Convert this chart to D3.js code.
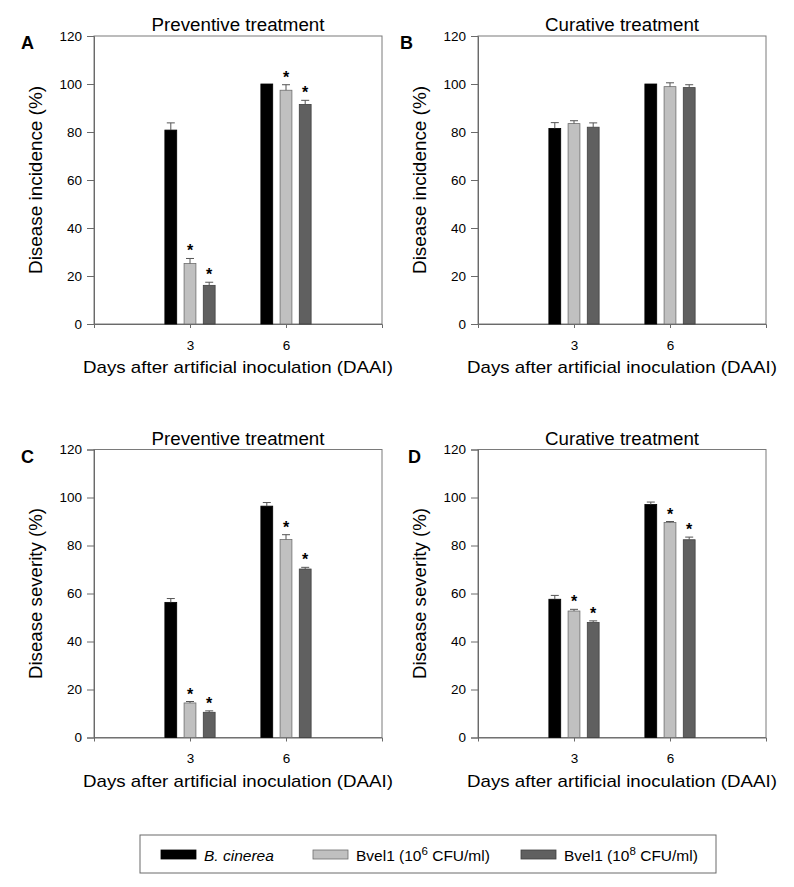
<!DOCTYPE html>
<html>
<head>
<meta charset="utf-8">
<script src="https://cdn.jsdelivr.net/npm/d3@7"></script>
<style>
  body { margin: 0; background: #fff; }
  text { font-family: Arial, "Liberation Sans", sans-serif; fill: #000; }
</style>
</head>
<body>
<div class="canvas"></div>
<script>
// data: rows = series, columns = days
const days = [3, 6];
const seriesNames = ['B. cinerea', 'Bvel1 (10^6 CFU/ml)', 'Bvel1 (10^8 CFU/ml)'];
const yTicks = [0, 20, 40, 60, 80, 100, 120];

const prevIncidence    = [[80.8, 100], [25.2, 97.4], [16.1, 91.5]];
const prevIncidenceErr = [[3.0, 0], [2.1, 2.3], [1.3, 1.7]];
const prevIncidenceSig = [[false, false], [true, true], [true, true]];

const curIncidence    = [[81.5, 100], [83.5, 98.9], [82.0, 98.5]];
const curIncidenceErr = [[2.4, 0], [1.2, 1.6], [1.8, 1.2]];
const curIncidenceSig = [[false, false], [false, false], [false, false]];

const prevSeverity    = [[56.3, 96.4], [14.4, 82.5], [10.5, 70.2]];
const prevSeverityErr = [[1.6, 1.5], [0.6, 2.0], [0.6, 0.7]];
const prevSeveritySig = [[false, false], [true, true], [true, true]];

const curSeverity    = [[57.6, 97.1], [52.7, 89.6], [47.9, 82.4]];
const curSeverityErr = [[1.6, 1.0], [0.7, 0.4], [0.7, 1.1]];
const curSeveritySig = [[false, false], [true, true], [true, true]];

const fills   = ['#000000', '#c0c0c0', '#606060'];
const strokes = ['#000000', '#6e6e6e', '#404040'];
const offsets = [-0.6, 0, 0.6];
const barW = 0.37;

const dim = { width: 288, height: 288 };

const panels = [
  { id: 'A', title: 'Preventive treatment', ylabel: 'Disease incidence (%)', mean: prevIncidence, err: prevIncidenceErr, sig: prevIncidenceSig, left: 94, top: 36, letterX: 21 },
  { id: 'B', title: 'Curative treatment', ylabel: 'Disease incidence (%)', mean: curIncidence, err: curIncidenceErr, sig: curIncidenceSig, left: 478, top: 36, letterX: 400 },
  { id: 'C', title: 'Preventive treatment', ylabel: 'Disease severity (%)', mean: prevSeverity, err: prevSeverityErr, sig: prevSeveritySig, left: 94, top: 449.5, letterX: 21 },
  { id: 'D', title: 'Curative treatment', ylabel: 'Disease severity (%)', mean: curSeverity, err: curSeverityErr, sig: curSeveritySig, left: 478, top: 449.5, letterX: 408 }
];

const svg = d3.select('.canvas')
    .append('svg')
    .attr('width', 794)
    .attr('height', 887);

const x = d3.scaleLinear().domain([0, 9]).range([0, dim.width]);
const y = d3.scaleLinear().domain([0, 120]).range([dim.height, 0]);

panels.forEach(p => {
    const g = svg.append('g')
        .attr('transform', `translate(${p.left}, ${p.top})`);

    // frame
    g.append('rect')
        .attr('width', dim.width)
        .attr('height', dim.height)
        .attr('fill', 'none')
        .attr('stroke', '#7a7a7a')
        .attr('stroke-width', 1);

    // axes
    const yAxis = d3.axisLeft(y).tickValues(yTicks).tickSize(7).tickPadding(5);
    const xAxis = d3.axisBottom(x).tickValues(days).tickSize(4).tickPadding(12);

    const ya = g.append('g').call(yAxis);
    const xa = g.append('g').attr('transform', `translate(0, ${dim.height})`).call(xAxis);
    [ya, xa].forEach(a => {
        a.selectAll('path, line').attr('stroke', '#6a6a6a');
        a.selectAll('text').style('font-size', '13.5px').attr('fill', '#111');
    });

    // bars
    const rows = [];
    p.mean.forEach((vals, s) => vals.forEach((v, d) => {
        rows.push({ s, day: days[d], v, e: p.err[s][d], sig: p.sig[s][d] });
    }));

    g.selectAll('rect.bar')
        .data(rows)
        .enter()
        .append('rect')
            .attr('class', 'bar')
            .attr('x', d => x(d.day + offsets[d.s] - barW / 2))
            .attr('width', x(barW) - x(0))
            .attr('y', d => y(d.v))
            .attr('height', d => y(0) - y(d.v))
            .attr('fill', d => fills[d.s])
            .attr('stroke', d => strokes[d.s])
            .attr('stroke-width', 0.8);

    // error bars (upper only)
    const eb = g.selectAll('g.err')
        .data(rows.filter(d => d.e > 0))
        .enter()
        .append('g')
            .attr('class', 'err')
            .attr('stroke', '#555')
            .attr('stroke-width', 1);
    eb.append('line')
        .attr('x1', d => x(d.day + offsets[d.s]))
        .attr('x2', d => x(d.day + offsets[d.s]))
        .attr('y1', d => y(d.v))
        .attr('y2', d => y(d.v + d.e));
    eb.append('line')
        .attr('x1', d => x(d.day + offsets[d.s]) - 4)
        .attr('x2', d => x(d.day + offsets[d.s]) + 4)
        .attr('y1', d => y(d.v + d.e))
        .attr('y2', d => y(d.v + d.e));

    // significance stars
    g.selectAll('text.star')
        .data(rows.filter(d => d.sig))
        .enter()
        .append('text')
            .attr('class', 'star')
            .attr('x', d => x(d.day + offsets[d.s]))
            .attr('y', d => y(d.v + d.e) - 2)
            .attr('text-anchor', 'middle')
            .style('font-size', '16px')
            .style('font-weight', 'bold')
            .text('*');

    // titles
    g.append('text')
        .attr('x', dim.width / 2)
        .attr('y', -5)
        .attr('text-anchor', 'middle')
        .attr('textLength', p.title.startsWith('Prev') ? 173 : 154)
        .attr('lengthAdjust', 'spacingAndGlyphs')
        .style('font-size', '17.5px')
        .text(p.title);

    g.append('text')
        .attr('x', dim.width / 2)
        .attr('y', dim.height + 49)
        .attr('text-anchor', 'middle')
        .attr('textLength', 310)
        .attr('lengthAdjust', 'spacingAndGlyphs')
        .style('font-size', '17px')
        .text('Days after artificial inoculation (DAAI)');

    g.append('text')
        .attr('transform', `translate(${-52}, ${dim.height / 2}) rotate(-90)`)
        .attr('text-anchor', 'middle')
        .attr('textLength', p.ylabel.includes('incidence') ? 188 : 171)
        .attr('lengthAdjust', 'spacingAndGlyphs')
        .style('font-size', '17.5px')
        .text(p.ylabel);

    // panel letter
    svg.append('text')
        .attr('x', p.letterX)
        .attr('y', p.top + 13)
        .style('font-size', '18px')
        .style('font-weight', 'bold')
        .text(p.id);
});

// legend
const legend = svg.append('g').attr('transform', 'translate(140, 835)');
legend.append('rect')
    .attr('width', 576)
    .attr('height', 38)
    .attr('fill', 'none')
    .attr('stroke', '#6a6a6a')
    .attr('stroke-width', 1);

const legendX = [21, 173, 381];
seriesNames.forEach((name, i) => {
    const item = legend.append('g').attr('transform', `translate(${legendX[i]}, 0)`);
    item.append('rect')
        .attr('y', 15)
        .attr('width', 35)
        .attr('height', 9)
        .attr('fill', fills[i])
        .attr('stroke', strokes[i])
        .attr('stroke-width', 0.8);
    const t = item.append('text')
        .attr('x', 43)
        .attr('y', 26)
        .style('font-size', '15.5px');
    if (i === 0) {
        t.style('font-style', 'italic').text(name);
    } else {
        const m = name.match(/^(.*10)\^(\d)(.*)$/);
        t.append('tspan').text(m[1]);
        t.append('tspan').attr('dy', -6).style('font-size', '11.5px').text(m[2]);
        t.append('tspan').attr('dy', 6).text(m[3]);
    }
});
</script>
</body>
</html>
